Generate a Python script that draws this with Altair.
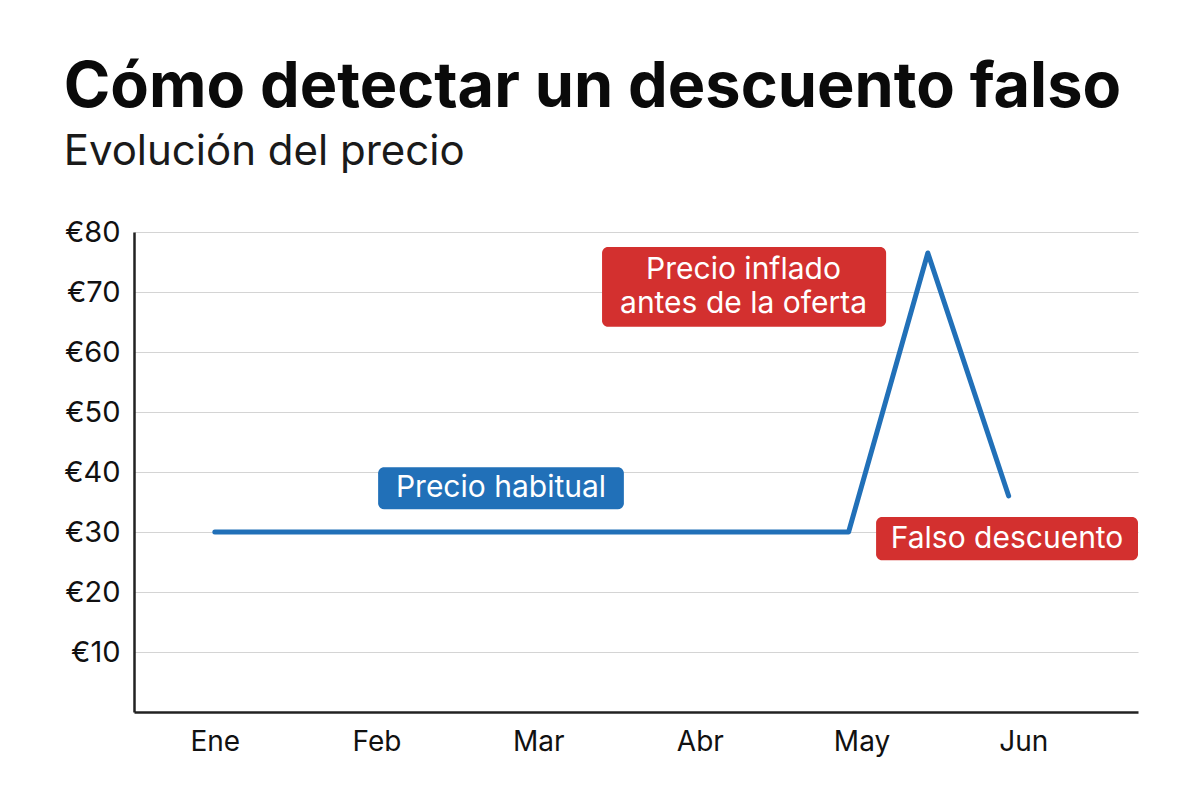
import altair as alt
import pandas as pd

# Month labels along the x axis (positions 0..5)
months = ["Ene", "Feb", "Mar", "Abr", "May", "Jun"]

# Price path: month position and price in euros
price_month = [0, 3.92, 4.41, 4.91]
price_eur = [30, 30, 76.5, 36]

# Callout boxes (data coordinates) and their text
note_text = [["Precio habitual"], ["Precio inflado", "antes de la oferta"], ["Falso descuento"]]
note_x = [1.77, 3.27, 4.90]
note_y = [37.3, 73.6, 28.8]
note_x0 = [1.01, 2.395, 4.09]
note_x1 = [2.53, 4.152, 5.71]
note_y0 = [33.8, 64.2, 25.3]
note_y1 = [40.8, 77.5, 32.5]
note_kind = ["habitual", "alerta", "alerta"]

BLUE = "#2170b8"
RED = "#d3302f"
FONT = "Inter"

line_df = pd.DataFrame({"m": price_month, "p": price_eur})
notes_df = pd.DataFrame({
    "text": note_text, "x": note_x, "y": note_y,
    "x0": note_x0, "x1": note_x1, "y0": note_y0, "y1": note_y1,
    "kind": note_kind,
})

month_expr = "[" + ",".join(f"'{m}'" for m in months) + "][datum.value]"

x_scale = alt.Scale(domain=[-0.5, 5.71], nice=False, zero=False)
y_scale = alt.Scale(domain=[0, 80], nice=False)

x_axis = alt.Axis(values=list(range(len(months))), labelExpr=month_expr, grid=False,
                  ticks=False, title=None, labelFontSize=28, labelPadding=16,
                  labelColor="#111111", labelFont=FONT, domainColor="#222222",
                  domainWidth=2.5)
y_axis = alt.Axis(values=list(range(10, 90, 10)), labelExpr="'€' + datum.value",
                  grid=True, gridColor="#d4d4d4", gridWidth=1.2, ticks=False,
                  title=None, labelFontSize=29, labelPadding=14, labelColor="#111111",
                  labelFont=FONT, domainColor="#222222", domainWidth=2.5)

price_line = alt.Chart(line_df).mark_line(
    color=BLUE, strokeWidth=5, strokeCap="round", strokeJoin="round"
).encode(
    x=alt.X("m:Q", scale=x_scale, axis=x_axis),
    y=alt.Y("p:Q", scale=y_scale, axis=y_axis),
)

color_scale = alt.Scale(domain=["habitual", "alerta"], range=[BLUE, RED])

boxes = alt.Chart(notes_df).mark_rect(cornerRadius=6).encode(
    x=alt.X("x0:Q", scale=x_scale),
    x2="x1:Q",
    y=alt.Y("y0:Q", scale=y_scale),
    y2="y1:Q",
    color=alt.Color("kind:N", scale=color_scale, legend=None),
)

labels = alt.Chart(notes_df).mark_text(
    color="white", fontSize=30, font=FONT, align="center", baseline="middle",
    lineHeight=34,
).encode(
    x=alt.X("x:Q", scale=x_scale),
    y=alt.Y("y:Q", scale=y_scale),
    text="text",
)

chart = alt.layer(price_line, boxes, labels).properties(
    width=1004,
    height=480,
    background="white",
    autosize=alt.AutoSizeParams(type="none"),
    padding={"left": 134, "top": 232, "right": 62, "bottom": 88},
    title=alt.TitleParams(
        text="Cómo detectar un descuento falso",
        subtitle="Evolución del precio",
        anchor="start",
        font=FONT, fontSize=63, fontWeight="bold", color="#0a0a0a",
        subtitleFont=FONT, subtitleFontSize=42, subtitleColor="#1a1a1a",
        subtitlePadding=12, offset=45,
    ),
).configure_view(strokeWidth=0, stroke=None)

chart.save("out.html", embed_options={"renderer": "svg", "actions": False})
